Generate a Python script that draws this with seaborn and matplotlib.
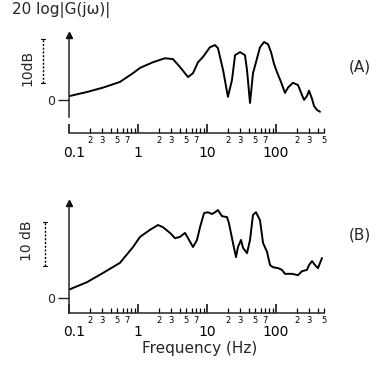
import matplotlib
matplotlib.use("Agg")
import matplotlib.pyplot as plt
import matplotlib.transforms as mtransforms
from matplotlib.ticker import FixedLocator, FixedFormatter
import seaborn as sns

# ---------------- data ----------------
freq_a = [0.103, 0.182, 0.311, 0.548, 0.847, 1.07, 1.65, 2.46, 3.21, 4.06,
          5.31, 6.27, 7.41, 8.75, 11.0, 13.1, 14.4, 17.1, 20.1, 23.0,
          25.5, 30.1, 35.5, 38.0, 42.0, 46.4, 51.3, 58.6, 67.0, 76.6,
          84.7, 93.6, 103, 118, 135, 149, 176, 208, 238, 255,
          281, 301, 333, 356, 393, 434]
db_a = [0.9, 1.8, 2.8, 4.1, 6.1, 7.3, 8.6, 9.5, 9.3, 7.5,
        5.2, 6.1, 8.6, 9.8, 12.0, 12.5, 11.8, 6.8, 0.7, 4.5,
        10.2, 10.9, 10.2, 6.8, -0.7, 6.1, 8.6, 12.0, 13.2, 12.7,
        10.9, 8.2, 6.4, 4.1, 1.6, 2.8, 3.9, 3.4, 1.1, 0.0,
        0.9, 2.1, 0.2, -1.4, -2.3, -2.7]

freq_b = [0.103, 0.182, 0.311, 0.548, 0.847, 1.07, 1.49, 1.95, 2.30, 2.91,
          3.44, 4.06, 4.80, 5.31, 6.27, 7.16, 7.92, 9.06, 10.3, 11.8,
          13.1, 14.4, 16.5, 19.5, 20.8, 23.8, 26.3, 28.1, 31.1, 33.3,
          38.0, 42.0, 46.4, 51.3, 58.6, 64.9, 74.1, 81.9, 90.5, 107,
          122, 135, 171, 208, 238, 281, 301, 333, 367, 406, 464]
db_b = [2.0, 3.6, 5.7, 8.0, 11.6, 13.9, 15.5, 16.6, 16.1, 14.8,
        13.6, 13.9, 14.8, 13.6, 11.6, 13.2, 16.1, 19.3, 19.5, 19.1,
        19.5, 20.0, 18.6, 18.4, 17.0, 12.5, 9.3, 11.6, 13.2, 11.4,
        10.2, 13.2, 18.9, 19.5, 17.7, 12.5, 10.5, 7.5, 7.0, 6.8,
        6.4, 5.5, 5.5, 5.2, 6.1, 6.4, 7.5, 8.4, 7.5, 6.8, 9.1]

decades = [0.1, 1, 10, 100]
major_labels = ["0.1", "1", "10", "100"]
multipliers = [2, 3, 4, 5, 6, 7, 8, 9]
last_multipliers = [2, 3, 4, 5]
minor_digit_labels = {2: "2", 3: "3", 5: "5", 7: "7"}

panel_labels = ["(A)", "(B)"]
y_title = "20 log|G(jω)|"
x_title = "Frequency (Hz)"
scale_text = ["10dB", "10 dB"]
scale_span_a = [3.8, 13.8]
scale_span_b = [7.2, 17.2]

# ---------------- style ----------------
sns.set_style("ticks")
plt.rcParams["font.family"] = ["DejaVu Sans"]
plt.rcParams["axes.linewidth"] = 1.1

W, H = 377, 369
fig = plt.figure(figsize=(W / 100, H / 100), dpi=100)
fig.patch.set_facecolor("white")


def frame(x0, y0, x1, y1):
    return [x0 / W, 1 - y1 / H, (x1 - x0) / W, (y1 - y0) / H]


XLIM = (0.1, 716)

# minor ticks
minor_pos, minor_lab = [], []
for d in decades:
    mults = last_multipliers if d == decades[-1] else multipliers
    for m in mults:
        minor_pos.append(d * m)
        minor_lab.append(minor_digit_labels.get(m, ""))


def style_freq_axis(ax):
    ax.set_xscale("log")
    ax.set_xlim(*XLIM)
    ax.xaxis.set_major_locator(FixedLocator(decades))
    ax.xaxis.set_major_formatter(FixedFormatter(major_labels))
    ax.xaxis.set_minor_locator(FixedLocator(minor_pos))
    ax.xaxis.set_minor_formatter(FixedFormatter(minor_lab))
    ax.tick_params(axis="x", which="major", direction="in", length=6.5,
                   width=1.1, labelsize=10, pad=9, colors="black")
    ax.tick_params(axis="x", which="minor", direction="in", length=3.5,
                   width=0.9, labelsize=6, pad=2.5, colors="black")
    first = ax.xaxis.get_major_ticks()[0].label1
    first.set_transform(first.get_transform() +
                        mtransforms.ScaledTranslation(0.05, 0,
                                                      fig.dpi_scale_trans))
    ax.spines["bottom"].set_bounds(XLIM[0], 500)


def style_y(ax):
    ax.set_yticks([0])
    ax.set_yticklabels(["0"])
    ax.tick_params(axis="y", which="major", direction="out", length=8,
                   width=1.0, labelsize=9, pad=2)
    ax.tick_params(axis="y", which="minor", left=False)
    ax.plot([0], [1], marker="^", color="black", markersize=5,
            transform=ax.transAxes, clip_on=False)


def scale_bar(ax, xfrac, span, text, tx, ty):
    tr = mtransforms.blended_transform_factory(ax.transAxes, ax.transData)
    ax.plot([xfrac, xfrac], span, color="black", lw=1.0, ls=(0, (1.5, 1.2)),
            transform=tr, clip_on=False)
    for v in span:
        ax.plot([xfrac - 0.008, xfrac + 0.008], [v, v], color="black", lw=0.8,
                transform=tr, clip_on=False)
    fig.text(tx / W, 1 - ty / H, text, rotation=90, ha="center", va="center",
             fontsize=10)


# ---------------- panel A ----------------
axA = fig.add_axes(frame(69, 35, 335, 117))
sns.lineplot(x=freq_a, y=db_a, ax=axA, color="black", lw=1.4,
             estimator=None, sort=False)
axA.set_xscale("log")
axA.set_xlim(*XLIM)
axA.set_ylim(-3.9, 14.8)
for s in ["top", "right", "bottom"]:
    axA.spines[s].set_visible(False)
axA.set_xticks([])
axA.xaxis.set_minor_locator(FixedLocator([]))
style_y(axA)
scale_bar(axA, -0.098, scale_span_a, scale_text[0], 27, 68)

# detached frequency scale for panel A
axAx = fig.add_axes(frame(69, 120, 335, 133))
axAx.patch.set_alpha(0)
for s in ["top", "right", "left"]:
    axAx.spines[s].set_visible(False)
axAx.set_yticks([])
style_freq_axis(axAx)

# ---------------- panel B ----------------
axB = fig.add_axes(frame(69, 203, 335, 313))
sns.lineplot(x=freq_b, y=db_b, ax=axB, color="black", lw=1.4,
             estimator=None, sort=False)
axB.set_ylim(-3.4, 21.6)
for s in ["top", "right"]:
    axB.spines[s].set_visible(False)
style_freq_axis(axB)
style_y(axB)
scale_bar(axB, -0.09, scale_span_b, scale_text[1], 27, 241)

# ---------------- texts ----------------
fig.text(61 / W, 1 - 10 / H, y_title, ha="center", va="center", fontsize=11)
fig.text(360 / W, 1 - 67 / H, panel_labels[0], ha="center", va="center",
         fontsize=11)
fig.text(360 / W, 1 - 235 / H, panel_labels[1], ha="center", va="center",
         fontsize=11)
fig.text(200 / W, 1 - 348 / H, x_title, ha="center", va="center",
         fontsize=11)

fig.savefig("out.png", dpi=100, facecolor="white")
